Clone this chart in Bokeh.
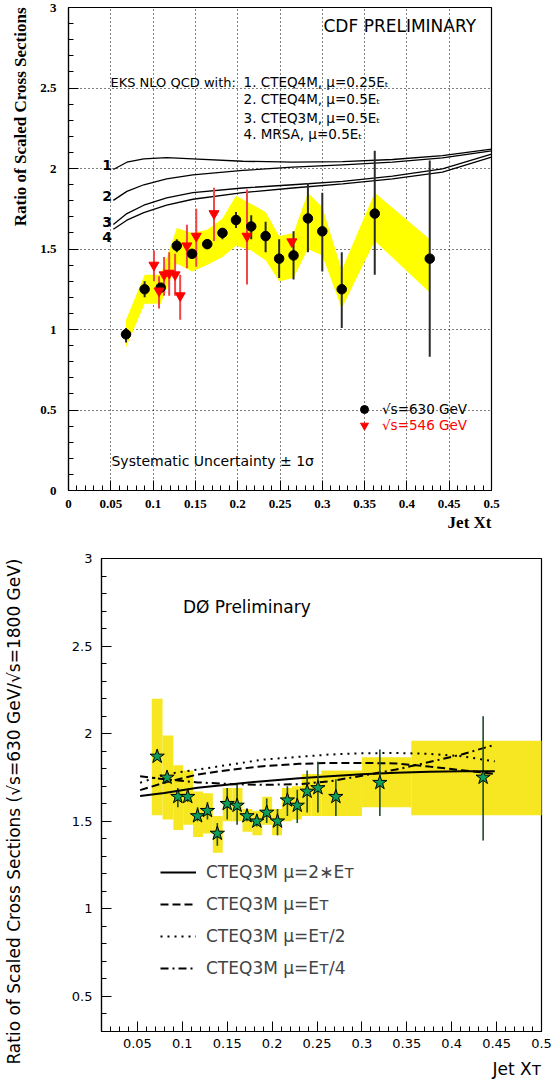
from bokeh.plotting import figure
from bokeh.models import FixedTicker, CustomJSTickFormatter, Label, Legend, LegendItem, Title
from bokeh.embed import file_html
from bokeh.resources import INLINE

# ---------------- CDF panel (top) ----------------
x_ticks_top = [0, 0.05, 0.1, 0.15, 0.2, 0.25, 0.3, 0.35, 0.4, 0.45, 0.5]
y_ticks_top = [0, 0.5, 1, 1.5, 2, 2.5, 3]

# sqrt(s)=630 GeV points
cdf_x = [0.068, 0.090, 0.109, 0.128, 0.146, 0.164, 0.182, 0.198, 0.216, 0.233,
         0.249, 0.266, 0.283, 0.300, 0.323, 0.362, 0.427]
cdf_y = [0.97, 1.25, 1.26, 1.52, 1.47, 1.53, 1.60, 1.68, 1.64, 1.58,
         1.44, 1.46, 1.69, 1.61, 1.25, 1.72, 1.44]
cdf_lo = [0.92, 1.20, 1.23, 1.48, 1.44, 1.50, 1.56, 1.63, 1.56, 1.48,
          1.32, 1.31, 1.48, 1.36, 1.01, 1.34, 0.83]
cdf_hi = [1.01, 1.30, 1.28, 1.56, 1.50, 1.56, 1.63, 1.73, 1.71, 1.67,
          1.56, 1.61, 1.91, 1.85, 1.48, 2.11, 2.05]
cdf_sys_hi = [1.06, 1.34, 1.34, 1.63, 1.60, 1.62, 1.69, 1.83, 1.78, 1.73,
              1.58, 1.60, 1.85, 1.76, 1.37, 1.85, 1.56]
cdf_sys_lo = [0.89, 1.16, 1.16, 1.41, 1.36, 1.40, 1.45, 1.52, 1.49, 1.43,
              1.30, 1.32, 1.50, 1.46, 1.13, 1.55, 1.23]

# sqrt(s)=546 GeV points
r_x = [0.101, 0.107, 0.113, 0.119, 0.126, 0.132, 0.140, 0.151, 0.172, 0.211, 0.264]
r_y = [1.40, 1.24, 1.34, 1.35, 1.34, 1.21, 1.52, 1.58, 1.72, 1.58, 1.545]
r_lo = [1.30, 1.13, 1.21, 1.21, 1.21, 1.06, 1.38, 1.39, 1.55, 1.28, 1.53]
r_hi = [1.49, 1.33, 1.45, 1.48, 1.47, 1.34, 1.65, 1.75, 1.88, 1.87, 1.56]

# EKS NLO QCD curves
th_x = [0.053, 0.069, 0.089, 0.116, 0.147, 0.206, 0.265, 0.324, 0.383, 0.442, 0.5]
eks_1 = [1.994, 2.039, 2.060, 2.068, 2.060, 2.045, 2.039, 2.043, 2.056, 2.080, 2.12]
eks_2 = [1.802, 1.858, 1.899, 1.936, 1.961, 1.988, 2.008, 2.023, 2.039, 2.066, 2.11]
eks_3 = [1.652, 1.720, 1.772, 1.817, 1.850, 1.879, 1.899, 1.920, 1.953, 1.998, 2.09]
eks_4 = [1.623, 1.679, 1.726, 1.772, 1.809, 1.850, 1.879, 1.905, 1.936, 1.977, 2.07]

# ---------------- D0 panel (bottom) ----------------
x_ticks_bot = [0.05, 0.1, 0.15, 0.2, 0.25, 0.3, 0.35, 0.4, 0.45, 0.5]
y_ticks_bot = [0.5, 1, 1.5, 2, 2.5, 3]

d0_x = [0.072, 0.083, 0.095, 0.106, 0.117, 0.128, 0.139, 0.150, 0.161, 0.172,
        0.183, 0.194, 0.206, 0.217, 0.228, 0.239, 0.251, 0.271, 0.320, 0.435]
d0_y = [1.87, 1.75, 1.64, 1.64, 1.53, 1.56, 1.43, 1.60, 1.59, 1.53,
        1.50, 1.55, 1.50, 1.62, 1.59, 1.67, 1.69, 1.64, 1.72, 1.75]
d0_lo = [1.85, 1.72, 1.58, 1.61, 1.50, 1.51, 1.36, 1.51, 1.48, 1.50,
         1.47, 1.49, 1.42, 1.53, 1.49, 1.55, 1.55, 1.53, 1.53, 1.39]
d0_hi = [1.89, 1.78, 1.69, 1.67, 1.58, 1.61, 1.49, 1.69, 1.71, 1.56,
         1.53, 1.63, 1.57, 1.70, 1.68, 1.79, 1.84, 1.74, 1.91, 2.10]
d0_edges = [0.066, 0.078, 0.090, 0.101, 0.112, 0.123, 0.134, 0.145, 0.156, 0.167, 0.178,
            0.189, 0.200, 0.211, 0.222, 0.233, 0.244, 0.255, 0.300, 0.355, 0.52]
d0_sys_hi = [2.20, 1.99, 1.82, 1.79, 1.67, 1.66, 1.53, 1.69, 1.69, 1.57,
             1.56, 1.64, 1.57, 1.69, 1.70, 1.77, 1.77, 1.79, 1.865, 1.96]
d0_sys_lo = [1.535, 1.51, 1.45, 1.48, 1.41, 1.43, 1.32, 1.50, 1.50, 1.44,
             1.42, 1.48, 1.42, 1.50, 1.51, 1.53, 1.53, 1.53, 1.58, 1.535]

th2_x = [0.053, 0.08, 0.117, 0.155, 0.19, 0.23, 0.264, 0.30, 0.338, 0.375, 0.411, 0.448]
cteq_2et = [1.644, 1.662, 1.691, 1.712, 1.729, 1.745, 1.757, 1.768, 1.777, 1.783, 1.786, 1.786]
cteq_et = [1.678, 1.720, 1.767, 1.795, 1.814, 1.828, 1.833, 1.833, 1.830, 1.812, 1.792, 1.770]
cteq_et2 = [1.720, 1.767, 1.795, 1.825, 1.852, 1.868, 1.881, 1.888, 1.890, 1.885, 1.871, 1.842]
cteq_et4 = [1.757, 1.740, 1.722, 1.712, 1.708, 1.712, 1.728, 1.760, 1.795, 1.838, 1.881, 1.937]

legend_labels = ["CTEQ3M μ=2∗Eᴛ", "CTEQ3M μ=Eᴛ", "CTEQ3M μ=Eᴛ/2", "CTEQ3M μ=Eᴛ/4"]

FMT = "return String(Math.round(tick*1000)/1000);"


def style_axis(ax, ticks, minor, font, size, bold, standoff):
    ax.ticker = FixedTicker(ticks=ticks, minor_ticks=minor)
    ax.formatter = CustomJSTickFormatter(code=FMT)
    ax.major_tick_in = 10
    ax.major_tick_out = 0
    ax.minor_tick_in = 5
    ax.minor_tick_out = 0
    ax.axis_line_color = "black"
    ax.axis_line_width = 1.2
    ax.major_tick_line_color = "black"
    ax.minor_tick_line_color = "black"
    ax.major_label_text_font = font
    ax.major_label_text_font_size = size
    ax.major_label_text_font_style = "bold" if bold else "normal"
    ax.major_label_text_color = "black"
    ax.major_label_standoff = standoff


def lab(p, x, y, text, size, font="DejaVu Sans", style="normal", align="left", color="black"):
    p.add_layout(Label(x=x, y=y, text=text, text_font=font, text_font_size=size,
                       text_font_style=style, text_align=align, text_baseline="middle",
                       text_color=color))


# ================= top figure =================
p1 = figure(width=553, height=537, x_range=(0, 0.5), y_range=(0, 3),
            min_border_left=68, min_border_right=62, min_border_top=7, min_border_bottom=47,
            output_backend="svg", toolbar_location=None)
p1.outline_line_color = "black"
p1.outline_line_width = 1.2
p1.background_fill_color = "white"
p1.border_fill_color = "white"

minor_x_top = [round(0.01 * i, 2) for i in range(51)]
minor_y_top = [round(0.1 * i, 1) for i in range(31)]
style_axis(p1.xaxis[0], x_ticks_top, minor_x_top, "Liberation Serif", "13px", True, 9)
style_axis(p1.yaxis[0], y_ticks_top, minor_y_top, "Liberation Serif", "13px", True, 12)
p1.xgrid.ticker = FixedTicker(ticks=x_ticks_top)
p1.ygrid.ticker = FixedTicker(ticks=y_ticks_top)
for g in (p1.xgrid[0], p1.ygrid[0]):
    g.grid_line_color = "black"
    g.grid_line_dash = "1 3"
    g.grid_line_width = 1

p1.varea(x=cdf_x, y1=cdf_sys_lo, y2=cdf_sys_hi, fill_color="#ffff00")
for c in (eks_1, eks_2, eks_3, eks_4):
    p1.line(th_x, c, line_color="black", line_width=1.3)
p1.segment(x0=cdf_x, y0=cdf_lo, x1=cdf_x, y1=cdf_hi, line_color="#2a2a2a", line_width=2)
p1.segment(x0=r_x, y0=r_lo, x1=r_x, y1=r_hi, line_color="#f04848", line_width=2)
r_cdf = p1.scatter(cdf_x, cdf_y, marker="circle", size=9.5, fill_color="black", line_color="black")
r_546 = p1.scatter(r_x, r_y, marker="inverted_triangle", size=10, fill_color="#ff0000", line_color="#ff0000")

leg_common = dict(padding=0, margin=0, glyph_width=20, glyph_height=20, label_height=20,
                  label_standoff=8, spacing=0, background_fill_alpha=0, border_line_alpha=0,
                  label_text_font="DejaVu Sans", label_text_font_size="13.5px")
p1.add_layout(Legend(items=[LegendItem(label="√s=630 GeV", renderers=[r_cdf])],
                     location=(286, 71), label_text_color="black", **leg_common))
p1.add_layout(Legend(items=[LegendItem(label="√s=546 GeV", renderers=[r_546])],
                     location=(286, 55), label_text_color="#ff0000", **leg_common))

lab(p1, 0.3014, 2.885, "CDF PRELIMINARY", "17px")
lab(p1, 0.0496, 2.537, "EKS NLO QCD with:", "13px")
lab(p1, 0.2069, 2.537, "1. CTEQ4M, μ=0.25Eₜ", "13.5px")
lab(p1, 0.2069, 2.431, "2. CTEQ4M, μ=0.5Eₜ", "13.5px")
lab(p1, 0.2069, 2.315, "3. CTEQ3M, μ=0.5Eₜ", "13.5px")
lab(p1, 0.2069, 2.214, "4. MRSA, μ=0.5Eₜ", "13.5px")
lab(p1, 0.0508, 0.181, "Systematic Uncertainty ± 1σ", "14px")
for t, yy in (("1", 2.019), ("2", 1.827), ("3", 1.669), ("4", 1.576)):
    lab(p1, 0.0457, yy, t, "14px", style="bold", align="center")

p1.add_layout(Title(text="Ratio of Scaled Cross Sections", align="right", standoff=16,
                    text_font="Liberation Serif", text_font_style="bold",
                    text_font_size="17px", text_color="black"), "left")
p1.add_layout(Title(text="Jet Xt", align="right", standoff=1,
                    text_font="Liberation Serif", text_font_style="bold",
                    text_font_size="17px", text_color="black"), "below")

# ================= bottom figure =================
p2 = figure(width=553, height=547, x_range=(0.01, 0.5), y_range=(0.3, 3),
            min_border_left=96, min_border_right=12, min_border_top=21, min_border_bottom=51,
            output_backend="svg", toolbar_location=None)
p2.outline_line_color = "black"
p2.outline_line_width = 1.2
p2.background_fill_color = "white"
p2.border_fill_color = "white"
p2.xgrid.grid_line_color = None
p2.ygrid.grid_line_color = None
minor_x_bot = [round(0.01 * i, 2) for i in range(1, 51)]
minor_y_bot = [round(0.1 * i, 1) for i in range(3, 31)]
style_axis(p2.xaxis[0], x_ticks_bot, minor_x_bot, "DejaVu Sans", "13px", False, 7)
style_axis(p2.yaxis[0], y_ticks_bot, minor_y_bot, "DejaVu Sans", "13px", False, 9)
# invisible spacer label pushes the outer title to the left edge
p2.yaxis[0].axis_label = " "
p2.yaxis[0].axis_label_text_font_size = "1px"
p2.yaxis[0].axis_label_standoff = 40

p2.quad(left=d0_edges[:-1], right=d0_edges[1:], bottom=d0_sys_lo, top=d0_sys_hi,
        fill_color="#f7e622", line_color=None)
l1 = p2.line(th2_x, cteq_2et, line_color="black", line_width=2)
l2 = p2.line(th2_x, cteq_et, line_color="black", line_width=2, line_dash="8 4")
l3 = p2.line(th2_x, cteq_et2, line_color="black", line_width=2, line_dash="2 5")
l4 = p2.line(th2_x, cteq_et4, line_color="black", line_width=2, line_dash="8 4 2 4")
p2.segment(x0=d0_x, y0=d0_lo, x1=d0_x, y1=d0_hi, line_color="#1e4a26", line_width=1.6)
p2.scatter(d0_x, d0_y, marker="star", size=15, fill_color="#0c9e5a", line_color="black", line_width=1)

p2.add_layout(Legend(items=[LegendItem(label=t, renderers=[r]) for t, r in
                            zip(legend_labels, (l1, l2, l3, l4))],
                     location=(59, 53), padding=0, margin=0, glyph_width=36, glyph_height=20,
                     label_height=20, label_standoff=10, spacing=12,
                     background_fill_alpha=0, border_line_alpha=0,
                     label_text_font="DejaVu Sans", label_text_font_size="17px"))

lab(p2, 0.1007, 2.721, "DØ Preliminary", "17px")
p2.add_layout(Title(text="Ratio of Scaled Cross Sections (√s=630 GeV/√s=1800 GeV)", align="right",
                    standoff=2, text_font="DejaVu Sans", text_font_style="normal",
                    text_font_size="17px", text_color="black"), "left")
p2.add_layout(Title(text="Jet Xᴛ", align="right", standoff=12,
                    text_font="DejaVu Sans", text_font_style="normal",
                    text_font_size="17px", text_color="black"), "below")

open("out.html", "w").write(file_html([p1, p2], INLINE))
